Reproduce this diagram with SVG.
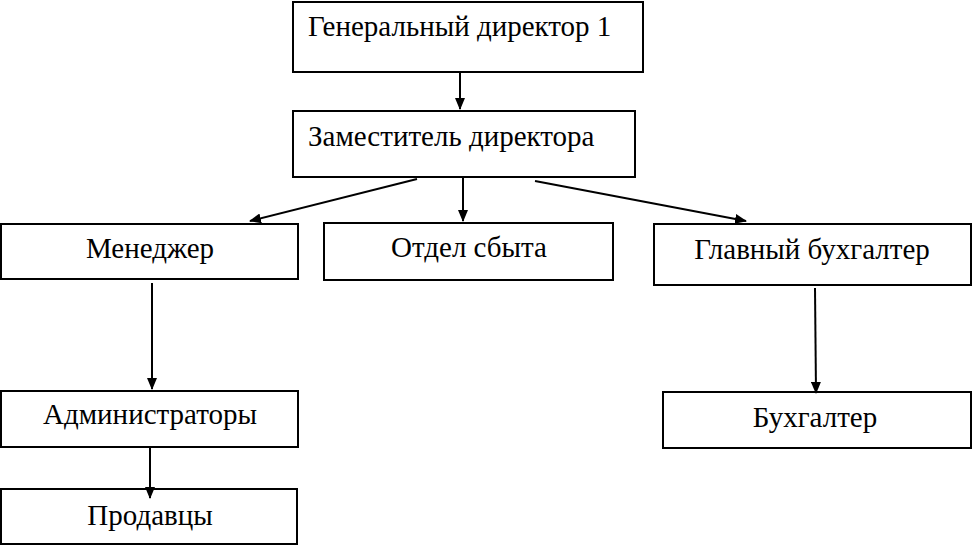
<svg xmlns="http://www.w3.org/2000/svg" width="972" height="546" viewBox="0 0 972 546">
<defs>
<marker id="ah" markerWidth="12" markerHeight="10" refX="11" refY="5" orient="auto" markerUnits="userSpaceOnUse">
<path d="M0,0 L12,5 L0,10 Z" fill="#000"/>
</marker>
</defs>
<rect width="972" height="546" fill="#fff"/>
<g fill="#fff" stroke="#000" stroke-width="2">
<g id="n1"><rect x="293" y="2" width="350" height="70"/><text x="308" y="36" font-family="Times New Roman, Liberation Serif, serif" font-size="29" fill="#000" stroke="none">Генеральный директор 1</text></g>
<g id="n2"><rect x="293" y="111" width="342" height="66"/><text x="308" y="146" font-family="Times New Roman, Liberation Serif, serif" font-size="29" fill="#000" stroke="none">Заместитель директора</text></g>
<g id="n3"><rect x="1" y="224" width="297" height="55"/><text x="150" y="258" text-anchor="middle" font-family="Times New Roman, Liberation Serif, serif" font-size="29" fill="#000" stroke="none">Менеджер</text></g>
<g id="n4"><rect x="324" y="223" width="289" height="57"/><text x="469" y="257" text-anchor="middle" font-family="Times New Roman, Liberation Serif, serif" font-size="29" fill="#000" stroke="none">Отдел сбыта</text></g>
<g id="n5"><rect x="654" y="224" width="317" height="61"/><text x="812" y="259" text-anchor="middle" font-family="Times New Roman, Liberation Serif, serif" font-size="29" fill="#000" stroke="none">Главный бухгалтер</text></g>
<g id="n6"><rect x="1" y="391" width="297" height="56"/><text x="150" y="424" text-anchor="middle" font-family="Times New Roman, Liberation Serif, serif" font-size="29" fill="#000" stroke="none">Администраторы</text></g>
<g id="n7"><rect x="1" y="489" width="296" height="55"/><text x="150" y="525" text-anchor="middle" font-family="Times New Roman, Liberation Serif, serif" font-size="29" fill="#000" stroke="none">Продавцы</text></g>
<g id="n8"><rect x="663" y="392" width="308" height="56"/><text x="815" y="427" text-anchor="middle" font-family="Times New Roman, Liberation Serif, serif" font-size="29" fill="#000" stroke="none">Бухгалтер</text></g>
</g>
<g id="connectors" stroke="#000" stroke-width="2" fill="none" marker-end="url(#ah)">
<line x1="460" y1="73" x2="460" y2="109"/>
<line x1="417" y1="179" x2="250" y2="221"/>
<line x1="463" y1="178" x2="463" y2="221"/>
<line x1="535" y1="181" x2="746" y2="221"/>
<line x1="152" y1="283" x2="152" y2="389"/>
<line x1="150" y1="448" x2="150" y2="498"/>
<line x1="815" y1="288" x2="816" y2="393"/>
</g>
</svg>
